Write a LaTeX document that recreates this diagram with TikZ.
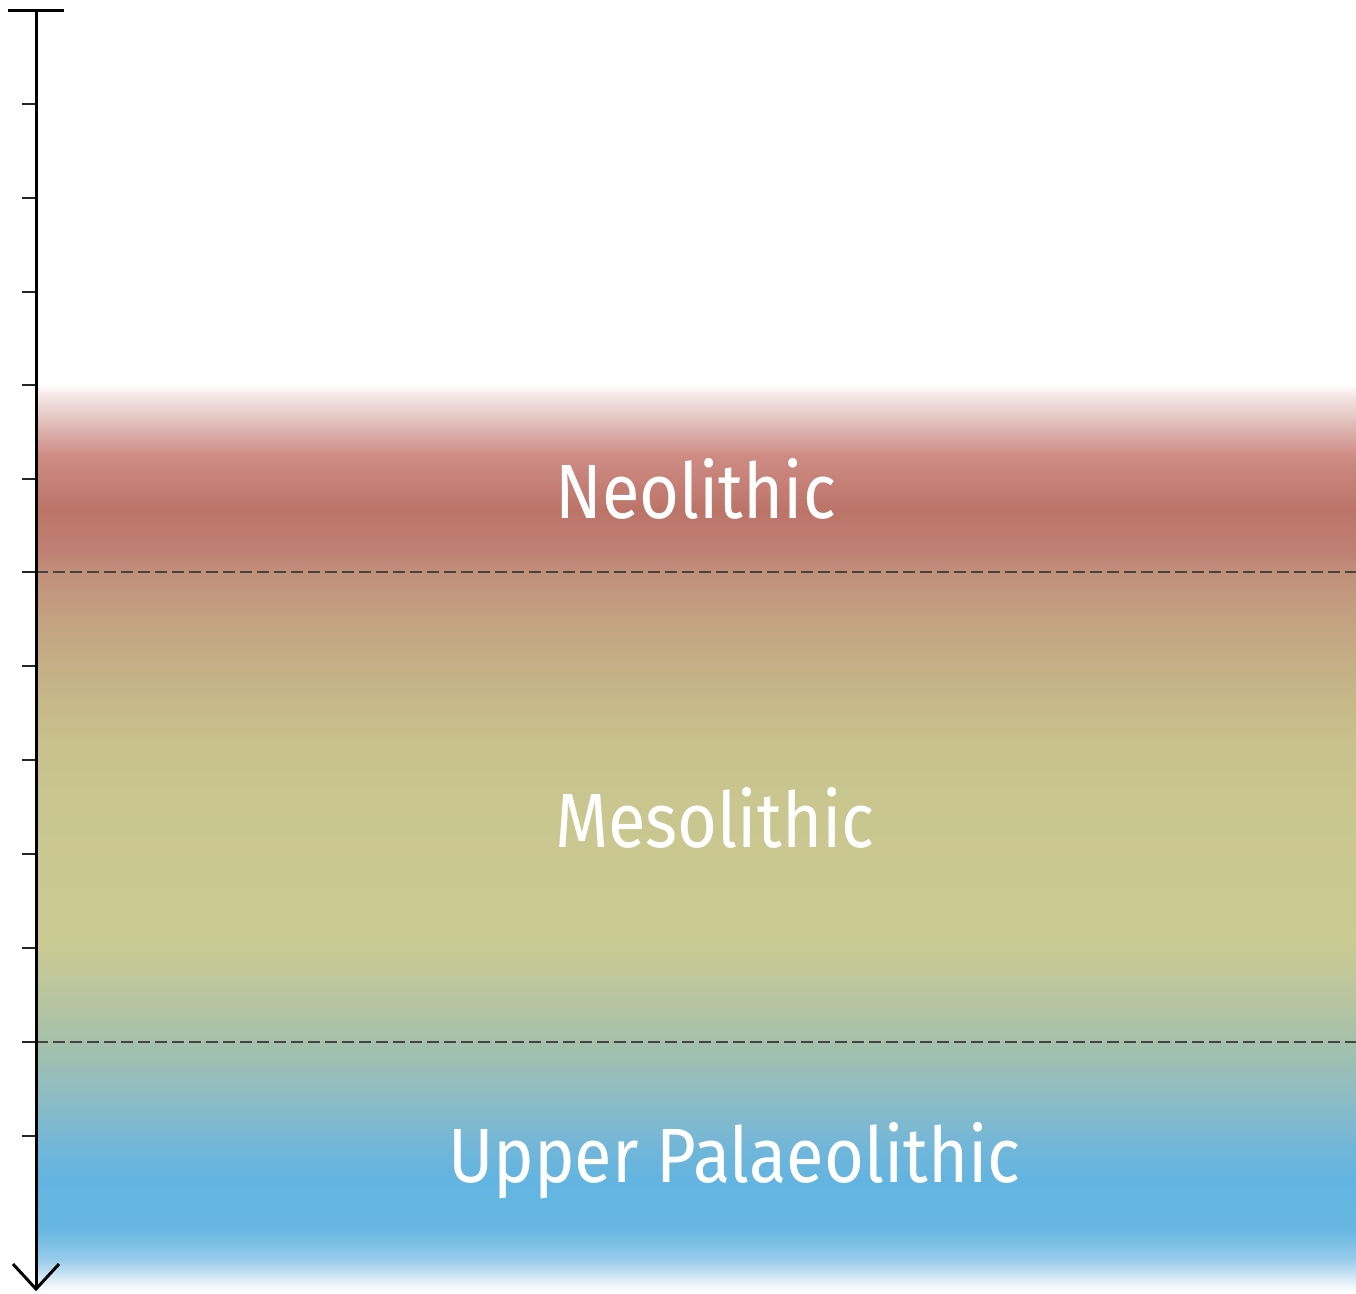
\documentclass[tikz,border=0pt]{standalone}
\usepackage{fontspec}
\newfontfamily\labfont{Fira Sans}[FakeStretch=0.89]
\definecolor{s0}{HTML}{FFFFFF}
\definecolor{s1}{HTML}{F5E8E7}
\definecolor{s2}{HTML}{E3C2BE}
\definecolor{s3}{HTML}{CE8C85}
\definecolor{s4}{HTML}{BC7468}
\definecolor{s5}{HTML}{BF8274}
\definecolor{s6}{HTML}{C1907A}
\definecolor{s7}{HTML}{C4A282}
\definecolor{s8}{HTML}{C5B387}
\definecolor{s9}{HTML}{C8C08D}
\definecolor{s10}{HTML}{C9C68F}
\definecolor{s11}{HTML}{CBCA93}
\definecolor{s12}{HTML}{BDC69C}
\definecolor{s13}{HTML}{A5C0AA}
\definecolor{s14}{HTML}{8CBCC6}
\definecolor{s15}{HTML}{70B6DA}
\definecolor{s16}{HTML}{63B4E1}
\definecolor{s17}{HTML}{68B7E2}
\definecolor{s18}{HTML}{99CCEA}
\definecolor{s19}{HTML}{EEF6FB}
\definecolor{s20}{HTML}{FFFFFF}
\definecolor{dashcol}{HTML}{444444}
\tikzset{
  axisline/.style={line width=3pt, black},
  tickline/.style={line width=2pt, black!85},
  periodline/.style={line width=1.3pt, dashcol, dash pattern=on 12pt off 5pt},
  periodlabel/.style={font=\labfont\fontsize{77}{80}\selectfont, text=white, inner sep=0pt, anchor=base west},
}
\begin{document}
\begin{tikzpicture}[x=1pt,y=-1pt]
\useasboundingbox (0,0) rectangle (1356,1293);
% gradient band
\foreach \ya/\ca/\yb/\cb in {385/s0/395/s1, 395/s1/420/s2, 420/s2/455/s3, 455/s3/510/s4, 510/s4/555/s5, 555/s5/572/s6, 572/s6/620/s7, 620/s7/680/s8, 680/s8/740/s9, 740/s9/800/s10, 800/s10/940/s11, 940/s11/985/s12, 985/s12/1042/s13, 1042/s13/1100/s14, 1100/s14/1150/s15, 1150/s15/1180/s16, 1180/s16/1230/s17, 1230/s17/1260/s18, 1260/s18/1285/s19, 1285/s19/1293/s20}
  \shade[top color=\ca, bottom color=\cb] (36,\ya-0.4) rectangle (1356,\yb+0.4);
% period boundaries
\coordinate (b1l) at (36,572); \coordinate (b1r) at (1356,572);
\coordinate (b2l) at (36,1042); \coordinate (b2r) at (1356,1042);
\draw[periodline] (b1l) -- (b1r);
\draw[periodline] (b2l) -- (b2r);
% labels
\node[periodlabel] (neo) at (555,518) {Neolithic};
\node[periodlabel] (meso) at (555,847) {Mesolithic};
\node[periodlabel] (upal) at (448,1182) {Upper Palaeolithic};
% ticks
\foreach \t in {104,198,292,385,479,572,666,760,854,948,1042,1136}
  \draw[tickline] (22,\t) -- (36,\t);
% axis
\coordinate (top) at (36,10);
\coordinate (bot) at (36,1289);
\coordinate (capl) at (8,10); \coordinate (capr) at (64,10);
\coordinate (arl) at (13,1264); \coordinate (arr) at (59,1264);
\draw[axisline] (top) -- (bot);
\draw[axisline] (capl) -- (capr);
\draw[axisline, line join=miter] (arl) -- (bot) -- (arr);
\end{tikzpicture}
\end{document}
